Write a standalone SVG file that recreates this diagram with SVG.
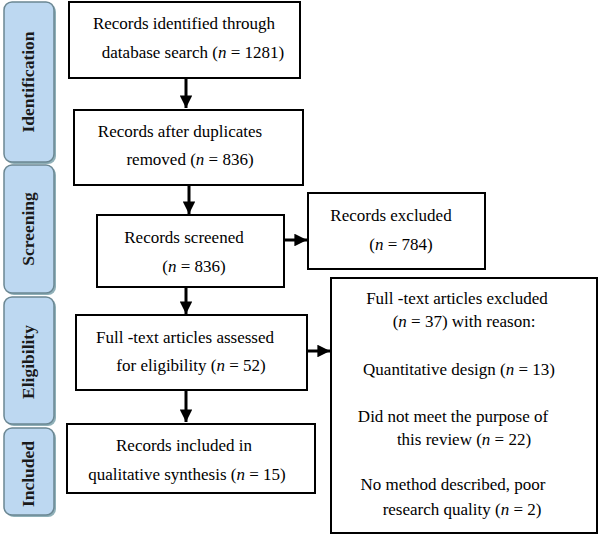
<svg xmlns="http://www.w3.org/2000/svg" width="599" height="535" viewBox="0 0 599 535">
<defs>
<style>
.bar{fill:#bdd8f1;stroke:#6b8793;stroke-width:1.5}
.shadow{fill:#8fb0b8}
.box{fill:#fff;stroke:#000;stroke-width:2}
.t{font-family:"Liberation Serif","Times New Roman",serif;font-size:17px;fill:#000;text-anchor:middle}
.lab{font-family:"Liberation Serif","Times New Roman",serif;font-size:17.5px;font-weight:bold;fill:#1a1a1a;text-anchor:middle}
.c{stroke:#000;stroke-width:3;fill:none}
</style>
<marker id="ah" viewBox="0 0 10 10" refX="10" refY="5" markerWidth="4.2" markerHeight="4.2" markerUnits="strokeWidth" orient="auto">
<path d="M0,0L10,5L0,10Z" fill="#000"/>
</marker>
</defs>
<rect width="599" height="535" fill="#fff"/>

<g id="stage-identification">
<rect class="shadow" x="6" y="4" width="50" height="160" rx="8"/>
<rect class="bar" x="4" y="2" width="50" height="160" rx="8"/>
<text class="lab" transform="translate(34,82) rotate(-90)">Identification</text>
</g>
<g id="stage-screening">
<rect class="shadow" x="6" y="167" width="50" height="128" rx="8"/>
<rect class="bar" x="4" y="165" width="50" height="128" rx="8"/>
<text class="lab" transform="translate(34,229) rotate(-90)">Screening</text>
</g>
<g id="stage-eligibility">
<rect class="shadow" x="6" y="299" width="50" height="127" rx="8"/>
<rect class="bar" x="4" y="297" width="50" height="127" rx="8"/>
<text class="lab" transform="translate(34,362) rotate(-90)" font-size="18.5">Eligibility</text>
</g>
<g id="stage-included">
<rect class="shadow" x="6" y="430" width="50" height="87" rx="8"/>
<rect class="bar" x="4" y="428" width="50" height="87" rx="8"/>
<text class="lab" transform="translate(34,474) rotate(-90)">Included</text>
</g>

<g id="connectors">
<line class="c" x1="186" y1="79" x2="186" y2="108" marker-end="url(#ah)"/>
<line class="c" x1="189" y1="186" x2="189" y2="214" marker-end="url(#ah)"/>
<line class="c" x1="186" y1="288" x2="186" y2="314" marker-end="url(#ah)"/>
<line class="c" x1="186" y1="391" x2="186" y2="422" marker-end="url(#ah)"/>
<line class="c" x1="285" y1="240" x2="307" y2="240" marker-end="url(#ah)"/>
<line class="c" x1="308" y1="351" x2="330" y2="351" marker-end="url(#ah)"/>
</g>

<g id="box-identified">
<rect class="box" x="69" y="2" width="231" height="76"/>
<text class="t" x="184" y="29">Records identified through</text>
<text class="t" x="193" y="58">database search (<tspan font-style="italic">n</tspan> = 1281)</text>
</g>
<g id="box-duplicates">
<rect class="box" x="74" y="110" width="229" height="75"/>
<text class="t" x="180" y="137">Records after duplicates</text>
<text class="t" x="190" y="165">removed (<tspan font-style="italic">n</tspan> = 836)</text>
</g>
<g id="box-screened">
<rect class="box" x="97" y="215" width="187" height="72"/>
<text class="t" x="184" y="243">Records screened</text>
<text class="t" x="194" y="272">(<tspan font-style="italic">n</tspan> = 836)</text>
</g>
<g id="box-excluded">
<rect class="box" x="308" y="193" width="177" height="76"/>
<text class="t" x="391" y="221">Records excluded</text>
<text class="t" x="401" y="250">(<tspan font-style="italic">n</tspan> = 784)</text>
</g>
<g id="box-assessed">
<rect class="box" x="76" y="315" width="231" height="75"/>
<text class="t" x="185" y="343">Full -text articles assessed</text>
<text class="t" x="191" y="371">for eligibility (<tspan font-style="italic">n</tspan> = 52)</text>
</g>
<g id="box-fulltext-excluded">
<rect class="box" x="331" y="278" width="266" height="255"/>
<text class="t" x="457" y="304">Full -text articles excluded</text>
<text class="t" x="464" y="327">(<tspan font-style="italic">n</tspan> = 37) with reason:</text>
<text class="t" x="459" y="375">Quantitative design (<tspan font-style="italic">n</tspan> = 13)</text>
<text class="t" x="453" y="422">Did not meet the purpose of</text>
<text class="t" x="464" y="445">this review (<tspan font-style="italic">n</tspan> = 22)</text>
<text class="t" x="453" y="490">No method described, poor</text>
<text class="t" x="462" y="515">research quality (<tspan font-style="italic">n</tspan> = 2)</text>
</g>
<g id="box-included">
<rect class="box" x="67" y="424" width="248" height="69"/>
<text class="t" x="184" y="451">Records included in</text>
<text class="t" x="187" y="480">qualitative synthesis (<tspan font-style="italic">n</tspan> = 15)</text>
</g>
</svg>
